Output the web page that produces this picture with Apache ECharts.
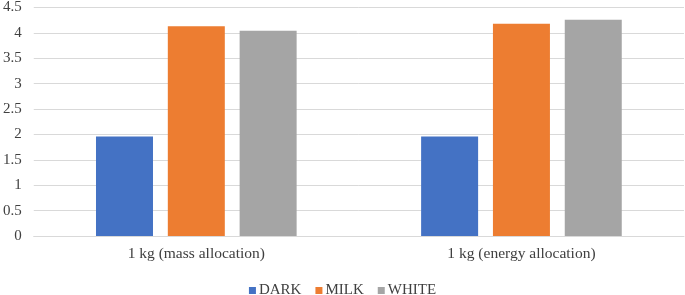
<!DOCTYPE html>
<html>
<head>
<meta charset="utf-8">
<script src="https://cdn.jsdelivr.net/npm/echarts@6/dist/echarts.min.js"></script>
<style>
  html, body { margin: 0; padding: 0; background: #fff; }
  #chart { width: 685px; height: 295px; }
</style>
</head>
<body>
<div id="chart"></div>
<script>
const categories = ['1 kg (mass allocation)', '1 kg (energy allocation)'];
const darkValues = [1.96, 1.96];
const milkValues = [4.13, 4.18];
const whiteValues = [4.04, 4.26];
const seriesNames = ['DARK', 'MILK', 'WHITE'];
const seriesColors = ['#4472C4', '#ED7D31', '#A5A5A5'];

const font = 'Liberation Serif';

// 基于准备好的dom，初始化echarts实例
var myChart = echarts.init(document.getElementById('chart'));
var option = {
    animation: false,
    grid: {
        left: 33,
        right: 1,
        top: 5,
        bottom: 59
    },
    legend: {
        data: seriesNames,
        bottom: -8,
        left: 'center',
        itemWidth: 7,
        itemHeight: 7,
        itemGap: 14,
        icon: 'rect',
        textStyle: {
            fontFamily: font,
            fontSize: 15,
            color: '#404040',
            padding: [0, 0, 0, -2]
        }
    },
    xAxis: {
        type: 'category',
        data: categories,
        axisTick: { show: false },
        axisLine: { lineStyle: { color: '#d9d9d9' } },
        axisLabel: {
            fontFamily: font,
            fontSize: 15.5,
            color: '#404040',
            margin: 10
        }
    },
    yAxis: {
        type: 'value',
        min: 0,
        max: 4.5,
        interval: 0.5,
        axisLine: { show: false },
        axisTick: { show: false },
        splitLine: { lineStyle: { color: '#d9d9d9' } },
        axisLabel: {
            fontFamily: font,
            fontSize: 15,
            color: '#404040',
            margin: 12
        }
    },
    series: [
        {
            name: seriesNames[0],
            type: 'bar',
            data: darkValues,
            barWidth: 57,
            barGap: '26%',
            itemStyle: { color: seriesColors[0] }
        },
        {
            name: seriesNames[1],
            type: 'bar',
            data: milkValues,
            barWidth: 57,
            barGap: '26%',
            itemStyle: { color: seriesColors[1] }
        },
        {
            name: seriesNames[2],
            type: 'bar',
            data: whiteValues,
            barWidth: 57,
            barGap: '26%',
            itemStyle: { color: seriesColors[2] }
        }
    ]
};
// 绘制图表
myChart.setOption(option);
</script>
</body>
</html>
